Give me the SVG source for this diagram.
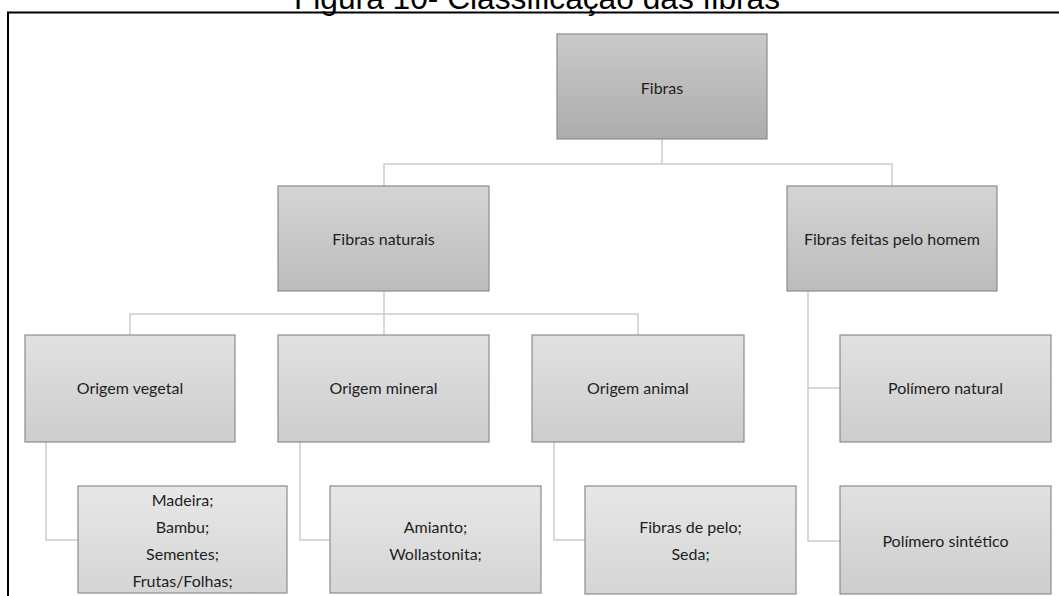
<svg xmlns="http://www.w3.org/2000/svg" width="1059" height="596" viewBox="0 0 1059 596">
  <defs>
    <linearGradient id="g1" x1="0" y1="0" x2="0" y2="1">
      <stop offset="0" stop-color="#cacaca"/>
      <stop offset="1" stop-color="#acacac"/>
    </linearGradient>
    <linearGradient id="g2" x1="0" y1="0" x2="0" y2="1">
      <stop offset="0" stop-color="#d4d4d4"/>
      <stop offset="1" stop-color="#bcbcbc"/>
    </linearGradient>
    <linearGradient id="g3" x1="0" y1="0" x2="0" y2="1">
      <stop offset="0" stop-color="#e1e1e1"/>
      <stop offset="1" stop-color="#cdcdcd"/>
    </linearGradient>
    <linearGradient id="g4" x1="0" y1="0" x2="0" y2="1">
      <stop offset="0" stop-color="#e7e7e7"/>
      <stop offset="1" stop-color="#d5d5d5"/>
    </linearGradient>
  </defs>
  <style>
    .box { stroke: #8c8c8c; stroke-width: 1.2; }
    .l1 { fill: url(#g1); }
    .l2 { fill: url(#g2); }
    .l3 { fill: url(#g3); }
    .l4 { fill: url(#g4); }
    .lbl { font-family: Lato, "Liberation Sans", sans-serif; font-size: 16px; fill: #1e1e1e; text-anchor: middle; dominant-baseline: central; }
    .conn { fill: none; stroke: #cbcbcb; stroke-width: 1.5; }
    .frame { fill: none; stroke: #000; stroke-width: 2; }
    .title { font-family: "Liberation Sans", Arial, sans-serif; font-size: 31.7px; fill: #000; text-anchor: middle; }
  </style>
  <rect x="0" y="0" width="1059" height="596" fill="#fff"/>
  <text class="title" x="537" y="8.5">Figura 10- Classificação das fibras</text>
  <path class="frame" d="M8 596 V12.5 H1059"/>

  <g id="connectors">
    <path class="conn" d="M662 139 V164 M384 186 V164 H892 V186"/>
    <path class="conn" d="M384 291 V314 M130 335 V314 H638 V335 M384 314 V335"/>
    <path class="conn" d="M808 291 V541 H840 M808 388 H840"/>
    <path class="conn" d="M46 442 V540 H78"/>
    <path class="conn" d="M300 442 V540 H330"/>
    <path class="conn" d="M554 442 V540 H585"/>
  </g>

  <g id="fibras">
    <rect class="box l1" x="557" y="34" width="210" height="105"/>
    <text class="lbl" x="662" y="87">Fibras</text>
  </g>
  <g id="fibras-naturais">
    <rect class="box l2" x="278" y="186" width="211" height="105"/>
    <text class="lbl" x="383.5" y="238">Fibras naturais</text>
  </g>
  <g id="fibras-feitas">
    <rect class="box l2" x="787" y="186" width="210" height="105"/>
    <text class="lbl" x="892" y="238">Fibras feitas pelo homem</text>
  </g>
  <g id="origem-vegetal">
    <rect class="box l3" x="25" y="335" width="210" height="107"/>
    <text class="lbl" x="130" y="387">Origem vegetal</text>
  </g>
  <g id="origem-mineral">
    <rect class="box l3" x="278" y="335" width="211" height="107"/>
    <text class="lbl" x="383.5" y="387">Origem mineral</text>
  </g>
  <g id="origem-animal">
    <rect class="box l3" x="532" y="335" width="212" height="107"/>
    <text class="lbl" x="638" y="387">Origem animal</text>
  </g>
  <g id="polimero-natural">
    <rect class="box l3" x="840" y="335" width="211" height="107"/>
    <text class="lbl" x="945.5" y="387">Polímero natural</text>
  </g>
  <g id="vegetal-itens">
    <rect class="box l4" x="78" y="486" width="209" height="107"/>
    <text class="lbl" x="182.5" y="499">Madeira;</text>
    <text class="lbl" x="182.5" y="526">Bambu;</text>
    <text class="lbl" x="182.5" y="553">Sementes;</text>
    <text class="lbl" x="182.5" y="580">Frutas/Folhas;</text>
  </g>
  <g id="mineral-itens">
    <rect class="box l4" x="330" y="486" width="211" height="107"/>
    <text class="lbl" x="435.5" y="526">Amianto;</text>
    <text class="lbl" x="435.5" y="553">Wollastonita;</text>
  </g>
  <g id="animal-itens">
    <rect class="box l4" x="585" y="486" width="211" height="108"/>
    <text class="lbl" x="690.5" y="526">Fibras de pelo;</text>
    <text class="lbl" x="690.5" y="553">Seda;</text>
  </g>
  <g id="polimero-sintetico">
    <rect class="box l3" x="840" y="486" width="211" height="108"/>
    <text class="lbl" x="945.5" y="540">Polímero sintético</text>
  </g>
</svg>
